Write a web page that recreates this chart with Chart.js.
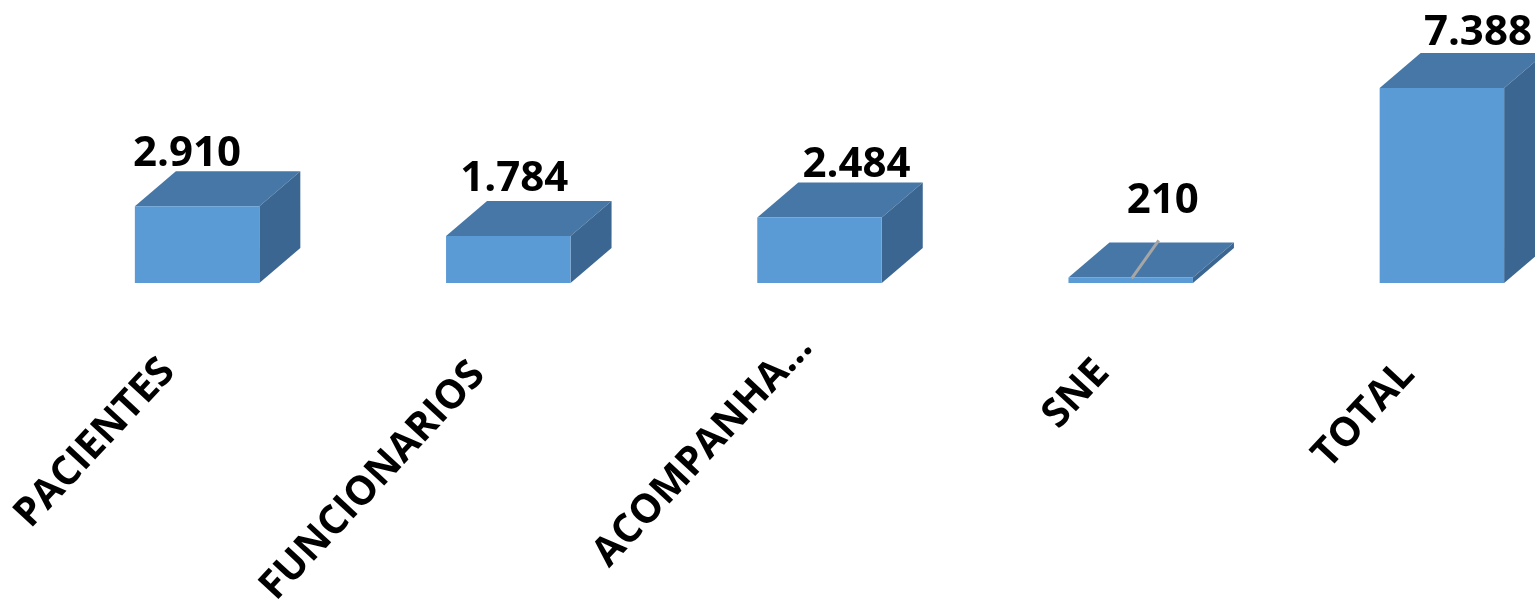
<!DOCTYPE html>
<html>
<head>
<meta charset="utf-8">
<script src="https://cdn.jsdelivr.net/npm/chart.js@4"></script>
<style>
  html, body { margin: 0; padding: 0; background: #fff; overflow: hidden; }
  #wrap { position: absolute; left: 0; top: 0; width: 1600px; height: 601px; }
</style>
</head>
<body>
<div id="wrap"><canvas id="chart" width="1600" height="601"></canvas></div>
<script>
// ==========================
// DATA
// ==========================
const categories = ["PACIENTES", "FUNCIONARIOS", "ACOMPANHA...", "SNE", "TOTAL"];
const values = [2910, 1784, 2484, 210, 7388];

// ==========================
// FORMATADOR (pt-BR: 2.910)
// ==========================
function formatPt(value) {
    return value.toString().replace(/\B(?=(\d{3})+(?!\d))/g, ".");
}

const VALUE_FONT = "bold 42px 'Open Sans', sans-serif";
const LABEL_FONT = "bold 40px 'Open Sans', sans-serif";

// ==========================
// 3D BAR PLUGIN
// ==========================
const bar3d = {
    id: "bar3d",
    beforeDatasetsDraw(chart, args, opts) {
        const ctx = chart.ctx;
        const meta = chart.getDatasetMeta(0);
        ctx.save();
        meta.data.forEach(bar => {
            const { x, y, base, width } = bar.getProps(["x", "y", "base", "width"], true);
            const l = x - width / 2, r = x + width / 2;
            // top face
            ctx.fillStyle = opts.topColor;
            ctx.beginPath();
            ctx.moveTo(l, y);
            ctx.lineTo(l + opts.dx, y - opts.dy);
            ctx.lineTo(r + opts.dx, y - opts.dy);
            ctx.lineTo(r, y);
            ctx.closePath();
            ctx.fill();
            // side face
            ctx.fillStyle = opts.sideColor;
            ctx.beginPath();
            ctx.moveTo(r, y);
            ctx.lineTo(r + opts.dx, y - opts.dy);
            ctx.lineTo(r + opts.dx, base - opts.dy);
            ctx.lineTo(r, base);
            ctx.closePath();
            ctx.fill();
        });
        ctx.restore();
    },
    afterDatasetsDraw(chart, args, opts) {
        const ctx = chart.ctx;
        const meta = chart.getDatasetMeta(0);
        const xScale = chart.scales.x;
        ctx.save();
        ctx.fillStyle = "#000";

        meta.data.forEach((bar, i) => {
            const { x, y, base } = bar.getProps(["x", "y", "base"], true);

            // leader line for tiny bar
            if (i === opts.leaderIndex) {
                ctx.strokeStyle = "#a6a6a6";
                ctx.lineWidth = 3;
                ctx.beginPath();
                ctx.moveTo(x + 1, y + 1);
                ctx.lineTo(x + 28, y - 37);
                ctx.stroke();
            }

            // value label
            ctx.font = VALUE_FONT;
            ctx.textAlign = "center";
            ctx.textBaseline = "alphabetic";
            ctx.fillText(formatPt(values[i]), x + opts.valueShift[i], y - opts.dy - opts.valueGap[i]);

            // category label (rotated)
            const cx = xScale.getPixelForValue(i);
            ctx.save();
            ctx.font = LABEL_FONT;
            ctx.translate(cx + opts.labelShift[i], base + opts.labelDrop[i]);
            ctx.rotate(-opts.labelAngle * Math.PI / 180);
            ctx.textAlign = "right";
            ctx.textBaseline = "middle";
            ctx.fillText(categories[i], 0, 0);
            ctx.restore();
        });
        ctx.restore();
    }
};

// ==========================
// BUILD CHART
// ==========================
new Chart(document.getElementById("chart"), {
    type: "bar",
    data: {
        labels: categories,
        datasets: [{
            data: values,
            backgroundColor: "#5b9bd5",
            borderWidth: 0,
            barPercentage: 0.4,
            categoryPercentage: 1
        }]
    },
    options: {
        responsive: false,
        animation: false,
        devicePixelRatio: 1,
        layout: { padding: { left: 41.5, right: 2.5, top: 19, bottom: 318 } },
        plugins: {
            legend: { display: false },
            tooltip: { enabled: false },
            bar3d: {
                dx: 41,
                dy: 35,
                topColor: "#4677a6",
                sideColor: "#3b6691",
                leaderIndex: 3,
                labelAngle: 47,
                valueShift: [-10, 6, 37, 32, 36],
                valueGap: [5, 10, 5, 29, 8],
                labelShift: [-29, -30, -14, -28, -34],
                labelDrop: [82, 85, 58, 83, 85]
            }
        },
        scales: {
            x: { display: false },
            y: { display: false, min: 0, max: 10000 }
        }
    },
    plugins: [bar3d]
});
</script>
</body>
</html>
